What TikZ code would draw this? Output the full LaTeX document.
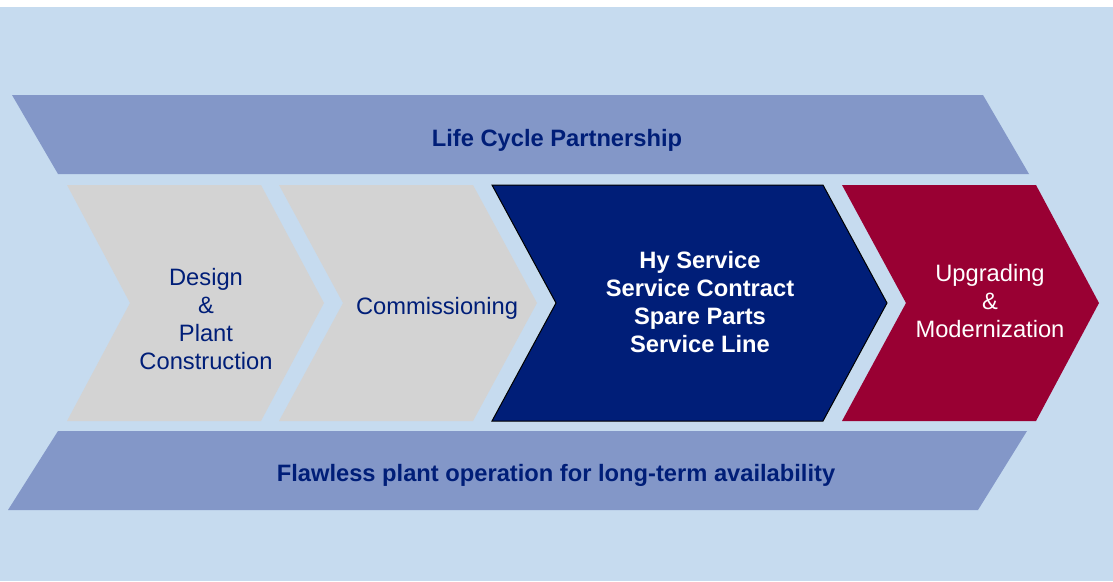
\documentclass[tikz,border=0pt]{standalone}
\usepackage{fontspec}
\setmainfont{Liberation Sans}
\definecolor{bgblue}{HTML}{C6DBEF}
\definecolor{bandblue}{HTML}{8397C8}
\definecolor{chgray}{HTML}{D3D3D3}
\definecolor{navy}{HTML}{001E78}
\definecolor{crimson}{HTML}{990033}
\begin{document}
\begin{tikzpicture}[x=1pt,y=-1pt,
  lbl/.style={font=\fontsize{23.7}{28.3}\selectfont, align=center, inner sep=0pt},
  bandlbl/.style={lbl, font=\fontsize{23.7}{28.3}\selectfont\bfseries, text=navy},
  graylbl/.style={lbl, text=navy},
  whitelbl/.style={lbl, text=white}]
\useasboundingbox (0,0) rectangle (1113,581);
\fill[white] (0,0) rectangle (1113,581);
\fill[bgblue] (0,7) rectangle (1113,581);
% bands
\fill[bandblue] (12,95) -- (983,95) -- (1029,174) -- (58,174) -- cycle;
\fill[bandblue] (58,431) -- (1027,431) -- (978,510) -- (8,510) -- cycle;
% chevrons
\fill[chgray] (67,185) -- (261,185) -- (324,303) -- (261,421) -- (67,421) -- (130,303) -- cycle;
\fill[chgray] (279,185) -- (473,185) -- (537,303) -- (473,421) -- (279,421) -- (343,303) -- cycle;
\filldraw[fill=navy, draw=black, line width=1pt] (492,185) -- (823,185) -- (887,303) -- (823,421) -- (492,421) -- (556,303) -- cycle;
\fill[crimson] (842,185) -- (1036,185) -- (1099,303) -- (1036,421) -- (842,421) -- (906,303) -- cycle;
% labels
\node[bandlbl, anchor=base] (lcp) at (557,146) {Life Cycle Partnership};
\node[bandlbl, anchor=base] (flaw) at (556,481) {Flawless plant operation for long-term availability};
\node[graylbl] (design) at (206,319) {Design\\\&\\Plant\\Construction};
\node[graylbl, anchor=base] (comm) at (437,314) {Commissioning};
\node[whitelbl, font=\fontsize{23.7}{28.3}\selectfont\bfseries] (hy) at (700,302) {Hy Service\\Service Contract\\Spare Parts\\Service Line};
\node[whitelbl] (upg) at (990,301) {Upgrading\\\&\\Modernization};
\end{tikzpicture}
\end{document}
